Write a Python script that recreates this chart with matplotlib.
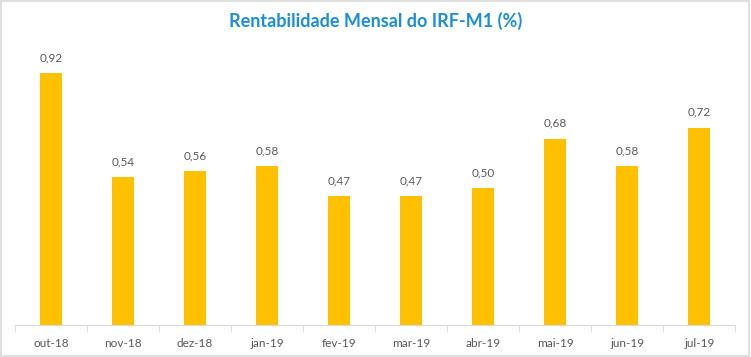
import matplotlib.pyplot as plt

meses = ['out-18', 'nov-18', 'dez-18', 'jan-19', 'fev-19',
         'mar-19', 'abr-19', 'mai-19', 'jun-19', 'jul-19']
rentabilidade = [0.92, 0.54, 0.56, 0.58, 0.47, 0.47, 0.50, 0.68, 0.58, 0.72]

fig = plt.figure(figsize=(7.51, 3.57), dpi=100)
ax = fig.add_axes([0.02, 0.0896, 0.959, 0.768])

x = range(len(meses))
bars = ax.bar(x, rentabilidade, width=0.31, color='#FFC000')

# rótulos de dados
for xi, v in zip(x, rentabilidade):
    ax.annotate(f'{v:.2f}'.replace('.', ','), (xi, v), xytext=(0, 7),
                textcoords='offset points', ha='center', va='bottom',
                fontsize=8.5, color='#595959', family='Lato')

ax.set_xlim(-0.5, len(meses) - 0.5)
ax.set_ylim(0, 1.0)
ax.set_xticks(list(x))
ax.set_xticklabels(meses, fontsize=8.5, color='#595959', family='Lato')
ax.set_xticks([i - 0.5 for i in range(len(meses) + 1)], minor=True)
ax.tick_params(axis='x', which='major', length=0, pad=9)
ax.tick_params(axis='x', which='minor', length=5, color='#D9D9D9')
ax.set_yticks([])
for s in ['top', 'right', 'left']:
    ax.spines[s].set_visible(False)
ax.spines['bottom'].set_color('#D9D9D9')

fig.text(0.5, 0.94, 'Rentabilidade Mensal do IRF-M1 (%)', ha='center', va='center',
         fontsize=13, fontweight='bold', color='#1A8FD8', family='Lato')

# borda do gráfico
fig.patches.append(plt.Rectangle((0.001, 0.002), 0.997, 0.995, transform=fig.transFigure,
                                 fill=False, edgecolor='#D9D9D9', linewidth=1.2))

fig.savefig('out.png', dpi=100)
